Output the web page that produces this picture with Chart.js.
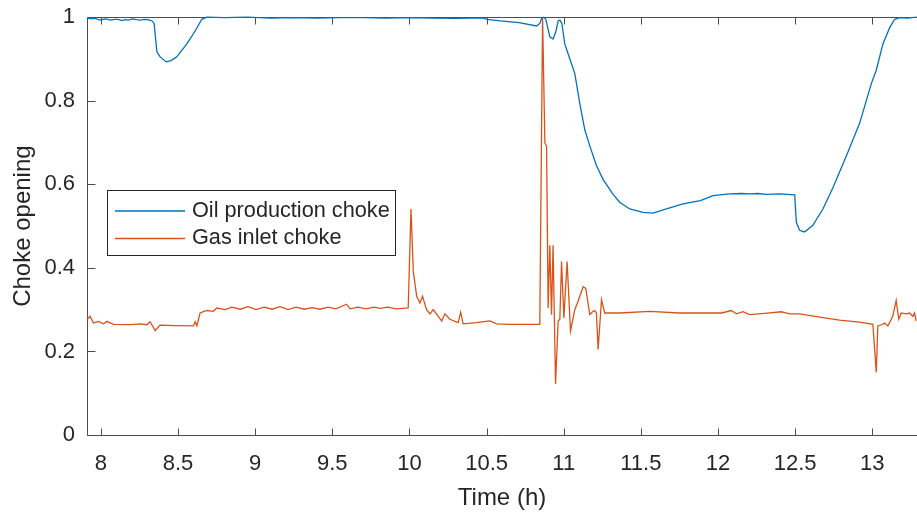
<!DOCTYPE html>
<html>
<head>
<meta charset="utf-8">
<script src="https://cdn.jsdelivr.net/npm/chart.js@4.4.0/dist/chart.umd.min.js"></script>
<style>
  html, body { margin: 0; padding: 0; background: #fff; }
  #wrap { width: 917px; height: 515px; }
</style>
</head>
<body>
<div id="wrap"><canvas id="chokeChart"></canvas></div>
<script>
// Choke opening vs time (h)

const oilTime = [7.911, 7.935, 7.963, 7.995, 8.030, 8.060, 8.090, 8.112, 8.135, 8.157, 8.180, 8.203, 8.230, 8.255, 8.280, 8.306, 8.332, 8.345, 8.363, 8.384,
  8.423, 8.455, 8.492, 8.557, 8.611, 8.654, 8.687, 8.80, 8.95, 9.10, 9.25, 9.40, 9.55, 9.70, 9.85, 10.00, 10.15, 10.30, 10.40, 10.48,
  10.502, 10.59, 10.71, 10.824, 10.845, 10.858, 10.871, 10.884, 10.910, 10.931, 10.949, 10.964, 10.975, 10.988, 11.007, 11.018, 11.040, 11.072, 11.104, 11.137,
  11.169, 11.212, 11.255, 11.320, 11.363, 11.428, 11.514, 11.579, 11.666, 11.773, 11.886, 11.968, 12.076, 12.150, 12.205, 12.260, 12.313, 12.400, 12.497, 12.508,
  12.529, 12.561, 12.615, 12.680, 12.745, 12.832, 12.918, 12.994, 13.026, 13.069, 13.113, 13.145, 13.177, 13.230, 13.287];
const oilValue = [0.998, 0.996, 0.997, 0.993, 0.996, 0.993, 0.995, 0.995, 0.992, 0.994, 0.993, 0.996, 0.994, 0.993, 0.995, 0.994, 0.991, 0.985, 0.917, 0.905,
  0.893, 0.896, 0.905, 0.936, 0.967, 0.995, 1.0, 0.999, 1.0, 0.998, 0.999, 0.998, 0.999, 0.999, 0.998, 0.999, 0.998, 0.997, 0.998, 0.998,
  0.995, 0.991, 0.987, 0.979, 0.985, 0.998, 1.0, 0.995, 0.953, 0.948, 0.965, 0.991, 0.993, 0.985, 0.936, 0.924, 0.900, 0.865, 0.794, 0.730,
  0.692, 0.645, 0.612, 0.576, 0.557, 0.541, 0.533, 0.531, 0.541, 0.553, 0.561, 0.573, 0.577, 0.578, 0.577, 0.578, 0.576, 0.577, 0.575, 0.509,
  0.490, 0.486, 0.502, 0.541, 0.592, 0.668, 0.746, 0.841, 0.873, 0.936, 0.975, 0.995, 0.999, 0.998, 1.0];

const gasTime = [7.911, 7.930, 7.952, 7.984, 8.017, 8.039, 8.082, 8.190, 8.255, 8.298, 8.319, 8.352, 8.384, 8.481, 8.600, 8.611, 8.622, 8.643, 8.687, 8.729,
  8.751, 8.805, 8.850, 8.902, 8.954, 9.006, 9.058, 9.109, 9.161, 9.213, 9.265, 9.317, 9.369, 9.421, 9.473, 9.524, 9.593, 9.615, 9.666, 9.718,
  9.770, 9.809, 9.861, 9.913, 9.992, 10.010, 10.025, 10.047, 10.068, 10.085, 10.111, 10.133, 10.154, 10.209, 10.230, 10.262, 10.316, 10.332, 10.348, 10.435,
  10.521, 10.565, 10.651, 10.845, 10.863, 10.878, 10.889, 10.899, 10.910, 10.921, 10.931, 10.947, 10.964, 10.975, 10.986, 11.001, 11.022, 11.044, 11.072, 11.093,
  11.126, 11.143, 11.169, 11.190, 11.201, 11.212, 11.223, 11.245, 11.266, 11.363, 11.557, 11.751, 12.022, 12.087, 12.119, 12.162, 12.205, 12.302, 12.411, 12.464,
  12.529, 12.659, 12.788, 12.918, 13.004, 13.026, 13.036, 13.069, 13.080, 13.101, 13.133, 13.155, 13.172, 13.188, 13.220, 13.242, 13.263, 13.274, 13.285];
const gasValue = [0.277, 0.284, 0.268, 0.272, 0.266, 0.272, 0.265, 0.264, 0.266, 0.264, 0.271, 0.250, 0.263, 0.262, 0.261, 0.271, 0.261, 0.292, 0.298, 0.296,
  0.304, 0.300, 0.306, 0.301, 0.307, 0.300, 0.306, 0.301, 0.307, 0.300, 0.306, 0.301, 0.305, 0.301, 0.306, 0.302, 0.313, 0.302, 0.306, 0.302,
  0.306, 0.303, 0.306, 0.302, 0.304, 0.541, 0.391, 0.332, 0.316, 0.332, 0.300, 0.290, 0.300, 0.273, 0.290, 0.277, 0.269, 0.294, 0.266, 0.269,
  0.273, 0.266, 0.265, 0.265, 1.0, 0.699, 0.691, 0.304, 0.454, 0.288, 0.454, 0.122, 0.273, 0.277, 0.415, 0.280, 0.415, 0.249, 0.300, 0.320,
  0.355, 0.351, 0.288, 0.296, 0.298, 0.292, 0.205, 0.324, 0.292, 0.292, 0.296, 0.292, 0.292, 0.298, 0.290, 0.295, 0.288, 0.291, 0.295, 0.290,
  0.290, 0.282, 0.275, 0.270, 0.265, 0.150, 0.261, 0.265, 0.268, 0.261, 0.284, 0.322, 0.277, 0.292, 0.290, 0.292, 0.284, 0.292, 0.273];

const seriesNames = ['Oil production choke', 'Gas inlet choke'];
const seriesColors = ['#0072BD', '#D95319'];

const xTicks = [8, 8.5, 9, 9.5, 10, 10.5, 11, 11.5, 12, 12.5, 13];
const yTicks = [0, 0.2, 0.4, 0.6, 0.8, 1];

const FONT = '"Liberation Sans", Arial, Helvetica, sans-serif';
const AXIS_COLOR = '#4d4d4d';
const TEXT_COLOR = '#262626';

function toPoints(xs, ys) {
    return xs.map((x, i) => ({ x: x, y: ys[i] }));
}

// box around plot + ticks pointing inward (matlab style)
const axesBox = {
    id: 'axesBox',
    beforeDatasetsDraw(chart) {
        const { ctx, chartArea: a, scales } = chart;
        ctx.save();
        ctx.strokeStyle = AXIS_COLOR;
        ctx.lineWidth = 1;
        ctx.beginPath();
        const L = Math.round(a.left) + 0.5, T = Math.round(a.top) + 0.5, B = Math.round(a.bottom) + 0.5;
        ctx.moveTo(a.right, T); ctx.lineTo(L, T); ctx.lineTo(L, B); ctx.lineTo(a.right, B);
        xTicks.forEach(v => {
            const px = Math.round(scales.x.getPixelForValue(v)) + 0.5;
            ctx.moveTo(px, B); ctx.lineTo(px, B - 7);
            ctx.moveTo(px, T); ctx.lineTo(px, T + 7);
        });
        yTicks.forEach(v => {
            const py = Math.round(scales.y.getPixelForValue(v)) + 0.5;
            ctx.moveTo(L, py); ctx.lineTo(L + 8, py);
        });
        ctx.stroke();
        ctx.restore();
    }
};

// legend drawn inside the plot
const insideLegend = {
    id: 'insideLegend',
    afterDraw(chart) {
        const ctx = chart.ctx;
        const box = { x: 107.5, y: 190.5, w: 288, h: 65 };
        ctx.save();
        ctx.fillStyle = '#ffffff';
        ctx.fillRect(box.x, box.y, box.w, box.h);
        ctx.strokeStyle = TEXT_COLOR;
        ctx.lineWidth = 1;
        ctx.strokeRect(box.x, box.y, box.w, box.h);
        ctx.font = '21.7px ' + FONT;
        ctx.textBaseline = 'middle';
        chart.data.datasets.forEach((ds, i) => {
            const cy = 211 + i * 27.5;
            ctx.strokeStyle = ds.borderColor;
            ctx.lineWidth = 1.3;
            ctx.beginPath();
            ctx.moveTo(115, cy); ctx.lineTo(185, cy);
            ctx.stroke();
            ctx.fillStyle = TEXT_COLOR;
            ctx.fillText(ds.label, 192, cy);
        });
        ctx.restore();
    }
};

const ctx = document.getElementById('chokeChart').getContext('2d');

new Chart(ctx, {
    type: 'line',
    data: {
        datasets: [
            { label: seriesNames[0], data: toPoints(oilTime, oilValue), borderColor: seriesColors[0] },
            { label: seriesNames[1], data: toPoints(gasTime, gasValue), borderColor: seriesColors[1] }
        ].map(ds => Object.assign(ds, { borderWidth: 1.3, pointRadius: 0, tension: 0, fill: false, clip: 4 }))
    },
    options: {
        responsive: true,
        maintainAspectRatio: false,
        animation: false,
        events: [],
        layout: { padding: { top: 1, right: 0, left: 0, bottom: 0 } },
        plugins: { legend: { display: false }, tooltip: { enabled: false } },
        scales: {
            x: {
                type: 'linear',
                min: 7.91,
                max: 13.29,
                grid: { display: false },
                border: { display: false },
                afterBuildTicks: s => { s.ticks = xTicks.map(v => ({ value: v })); },
                afterFit: s => { s.height = 80; },
                ticks: {
                    color: TEXT_COLOR,
                    font: { family: FONT, size: 22 },
                    padding: 8,
                    maxRotation: 0,
                    autoSkip: false,
                    callback: v => String(v)
                },
                title: {
                    display: true,
                    text: 'Time (h)',
                    color: TEXT_COLOR,
                    font: { family: FONT, size: 24 },
                    padding: { top: 0, bottom: 2 }
                }
            },
            y: {
                min: 0,
                max: 1,
                grid: { display: false },
                border: { display: false },
                afterBuildTicks: s => { s.ticks = yTicks.map(v => ({ value: v })); },
                afterFit: s => { s.width = 87; },
                ticks: {
                    color: TEXT_COLOR,
                    font: { family: FONT, size: 22 },
                    padding: 4,
                    callback: v => String(v)
                },
                title: {
                    display: true,
                    text: 'Choke opening',
                    color: TEXT_COLOR,
                    font: { family: FONT, size: 24 },
                    padding: { top: 9, bottom: 0 }
                }
            }
        }
    },
    plugins: [axesBox, insideLegend]
});
</script>
</body>
</html>
